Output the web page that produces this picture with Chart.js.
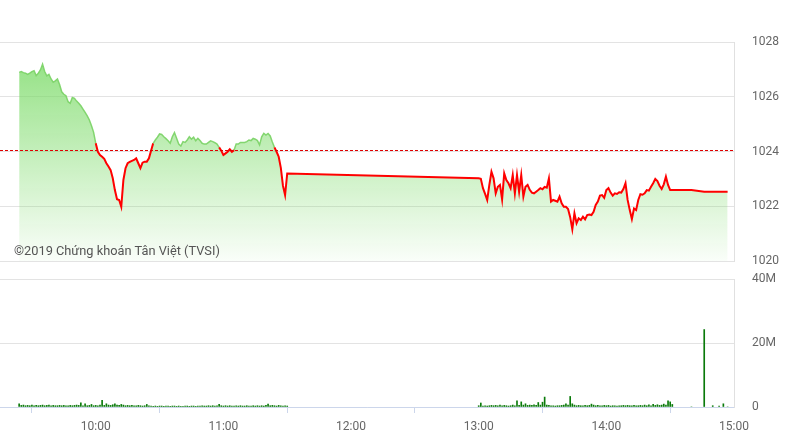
<!DOCTYPE html>
<html lang="vi">
<head>
<meta charset="UTF-8">
<title>VN-Index trong phiên</title>
<script src="https://cdn.jsdelivr.net/npm/chart.js"></script>
<style>
    body { margin: 0; background: #fff; font-family: Roboto, Arial, sans-serif; }
    #wrap { position: relative; width: 796px; height: 447px; }
    #priceBox { position: absolute; left: 0; top: 0; width: 796px; height: 270px; }
    #volBox { position: absolute; left: 0; top: 270px; width: 796px; height: 177px; }
    .copy { position: absolute; left: 14px; top: 243px; font-size: 12.8px; color: #555; }
</style>
</head>
<body>
<div id="wrap">
    <div id="priceBox"><canvas id="priceChart"></canvas></div>
    <div id="volBox"><canvas id="volChart"></canvas></div>
    <div class="copy">©2019 Chứng khoán Tân Việt (TVSI)</div>
</div>
<script>
// session times, index value and matched volume (millions)
const times = [
    '9:24','9:25','9:26','9:27','9:28','9:29','9:30','9:31','9:32','9:33',
    '9:34','9:35','9:36','9:37','9:38','9:39','9:40','9:41','9:42','9:43',
    '9:44','9:45','9:46','9:47','9:48','9:49','9:50','9:51','9:52','9:53',
    '9:54','9:55','9:56','9:57','9:58','9:59','10:00','10:01','10:02','10:03',
    '10:04','10:05','10:06','10:07','10:08','10:09','10:10','10:11','10:12','10:13',
    '10:14','10:15','10:16','10:17','10:18','10:19','10:20','10:21','10:22','10:23',
    '10:24','10:25','10:26','10:27','10:28','10:29','10:30','10:31','10:32','10:33',
    '10:34','10:35','10:36','10:37','10:38','10:39','10:40','10:41','10:42','10:43',
    '10:44','10:45','10:46','10:47','10:48','10:49','10:50','10:51','10:52','10:53',
    '10:54','10:55','10:56','10:57','10:58','10:59','11:00','11:01','11:02','11:03',
    '11:04','11:05','11:06','11:07','11:08','11:09','11:10','11:11','11:12','11:13',
    '11:14','11:15','11:16','11:17','11:18','11:19','11:20','11:21','11:22','11:23',
    '11:24','11:25','11:26','11:27','11:28','11:29','11:30',
    '13:00','13:01','13:02','13:03','13:04','13:05','13:06','13:07','13:08','13:09',
    '13:10','13:11','13:12','13:13','13:14','13:15','13:16','13:17','13:18','13:19',
    '13:20','13:21','13:22','13:23','13:24','13:25','13:26','13:27','13:28','13:29',
    '13:30','13:31','13:32','13:33','13:34','13:35','13:36','13:37','13:38','13:39',
    '13:40','13:41','13:42','13:43','13:44','13:45','13:46','13:47','13:48','13:49',
    '13:50','13:51','13:52','13:53','13:54','13:55','13:56','13:57','13:58','13:59',
    '14:00','14:01','14:02','14:03','14:04','14:05','14:06','14:07','14:08','14:09',
    '14:10','14:11','14:12','14:13','14:14','14:15','14:16','14:17','14:18','14:19',
    '14:20','14:21','14:22','14:23','14:24','14:25','14:26','14:27','14:28','14:29',
    '14:30','14:31','14:40','14:46','14:50','14:53','14:55','14:57'
];
const prices = [
    1026.89,1026.92,1026.88,1026.86,1026.82,1026.86,1026.92,1026.95,1026.77,1026.86,
    1026.98,1027.19,1026.92,1026.76,1026.82,1026.65,1026.53,1026.58,1026.65,1026.45,
    1026.18,1026.09,1026.04,1025.82,1025.76,1025.97,1025.94,1025.84,1025.76,1025.67,
    1025.55,1025.43,1025.30,1025.15,1024.94,1024.70,1024.30,1023.99,1023.87,1023.81,
    1023.73,1023.57,1023.45,1023.32,1023.02,1022.59,1022.26,1022.23,1021.98,1022.96,
    1023.39,1023.57,1023.62,1023.66,1023.69,1023.75,1023.57,1023.39,1023.59,1023.63,
    1023.63,1023.75,1024.03,1024.30,1024.42,1024.52,1024.64,1024.62,1024.54,1024.47,
    1024.39,1024.30,1024.54,1024.69,1024.48,1024.27,1024.20,1024.36,1024.33,1024.42,
    1024.54,1024.45,1024.52,1024.39,1024.48,1024.40,1024.30,1024.27,1024.27,1024.33,
    1024.39,1024.36,1024.32,1024.27,1024.15,1024.03,1023.87,1023.93,1023.99,1024.08,
    1023.99,1024.05,1024.27,1024.27,1024.33,1024.33,1024.33,1024.36,1024.42,1024.40,
    1024.48,1024.45,1024.40,1024.24,1024.54,1024.66,1024.60,1024.66,1024.57,1024.35,
    1024.15,1023.99,1023.81,1023.40,1022.75,1022.41,1023.20,
    1023.02,1023.00,1022.66,1022.45,1022.23,1022.78,1023.26,1023.02,1022.47,1022.71,
    1022.78,1022.25,1023.20,1022.96,1022.84,1022.66,1023.14,1022.47,1023.14,1022.53,
    1023.14,1022.35,1022.71,1022.78,1022.60,1022.50,1022.47,1022.53,1022.59,1022.66,
    1022.62,1022.71,1022.68,1023.02,1022.17,1022.23,1022.20,1022.17,1022.35,1022.11,
    1021.98,1021.98,1021.90,1021.60,1021.16,1021.74,1021.38,1021.56,1021.50,1021.62,
    1021.52,1021.68,1021.70,1021.68,1021.80,1022.05,1022.17,1022.39,1022.41,1022.31,
    1022.59,1022.66,1022.50,1022.39,1022.47,1022.45,1022.51,1022.50,1022.63,1022.84,
    1022.23,1021.86,1021.53,1021.92,1021.86,1022.23,1022.44,1022.42,1022.47,1022.59,
    1022.57,1022.71,1022.84,1023.00,1022.92,1022.75,1022.63,1022.80,1023.08,1022.78,
    1022.59,1022.59,1022.59,1022.53,1022.53,1022.53,1022.53,1022.53
];
const volumes = [
    1.0,0.5,0.6,0.4,0.5,0.4,0.6,0.4,0.5,0.4,
    0.5,0.6,0.4,0.5,0.6,0.4,0.5,0.4,0.4,0.5,
    0.4,0.5,0.4,0.4,0.5,0.4,0.5,0.6,0.5,1.3,
    0.4,1.0,0.4,0.5,0.8,0.4,0.5,0.4,0.6,2.1,
    0.5,1.0,0.6,0.5,0.7,1.0,0.6,0.5,0.8,0.6,
    0.4,0.5,0.4,0.5,0.4,0.4,0.5,0.4,0.3,0.4,
    0.8,0.4,0.3,0.2,0.3,0.2,0.3,0.3,0.2,0.3,
    0.3,0.2,0.3,0.3,0.2,0.3,0.2,0.1,0.3,0.3,
    0.2,0.3,0.3,0.2,0.3,0.3,0.4,0.3,0.3,0.4,
    0.3,0.4,0.3,0.4,0.8,0.4,0.3,0.4,0.3,0.4,
    0.3,0.3,0.4,0.3,0.4,0.3,0.3,0.4,0.3,0.3,
    0.4,0.3,0.4,0.3,0.4,0.3,0.5,0.9,0.4,0.5,
    0.4,0.3,0.5,0.4,0.3,0.4,0.3,
    0.4,1.25,0.3,0.4,0.3,0.4,0.5,0.4,0.5,0.4,
    0.6,0.4,0.5,0.4,0.3,0.4,0.6,0.4,1.9,0.5,
    1.6,0.6,1.0,0.5,0.6,0.5,0.7,0.5,1.4,0.6,
    1.5,3.1,0.6,0.5,0.4,0.4,0.3,0.4,0.4,0.5,
    0.6,1.0,0.6,3.3,1.0,0.6,0.4,0.5,0.4,0.4,
    0.5,0.4,0.5,0.9,0.6,0.4,0.5,0.4,0.4,0.5,
    0.4,0.5,0.3,0.4,0.4,0.3,0.4,0.4,0.5,0.4,
    0.5,0.4,0.4,0.5,0.4,0.4,0.5,0.4,0.6,0.4,
    0.7,0.4,0.8,0.5,0.7,0.5,0.6,0.9,0.6,1.9,
    1.6,0.8,0,24.2,0.4,0.3,1.0,0
];
const refPrice = 1024.05;          // tham chiếu
const priceTicks = [1020, 1022, 1024, 1026, 1028];
const volTicks = [0, 20, 40];
const hourTicks = ['10:00', '11:00', '12:00', '13:00', '14:00', '15:00'];
const dayStart = '9:15';
const dayEnd = '15:00';

function toMin(t) {
    const [h, m] = t.split(':').map(Number);
    return h * 60 + m;
}

// nudge layout padding until the plot area sits where the reference has it
function placeArea(chart, top, bottom) {
    const p = chart.options.layout.padding;
    for (let k = 0; k < 2; k++) {
        const a = chart.chartArea;
        p.top += top - a.top;
        p.bottom += a.bottom - bottom;
        p.left -= a.left;
        chart.update();
    }
}

Chart.defaults.font.family = 'Roboto, Arial, sans-serif';
Chart.defaults.font.size = 12;
Chart.defaults.color = '#666';

const upColor = 'rgba(125,212,105,0.95)';
const downColor = '#ff0000';
const isUp = s => s.p0.parsed.y >= refPrice && s.p1.parsed.y >= refPrice;

// right-hand axis: labels pushed out with an invisible tick instead of ticks.padding
// (ticks.padding also pads the plot top/bottom on a vertical scale)
const rightGrid = { color: '#e3e3e3', drawTicks: true, tickLength: 18, tickColor: 'rgba(0,0,0,0)' };

const refLine = {
    id: 'refLine',
    afterDatasetsDraw(chart) {
        const { ctx, chartArea, scales } = chart;
        const y = Math.round(scales.y.getPixelForValue(refPrice)) + 0.5;
        ctx.save();
        ctx.strokeStyle = '#e00000';
        ctx.lineWidth = 1;
        ctx.setLineDash([3, 2]);
        ctx.beginPath();
        ctx.moveTo(chartArea.left, y);
        ctx.lineTo(chartArea.right, y);
        ctx.stroke();
        ctx.restore();
    }
};

const pricePoints = times.map((t, i) => ({ x: toMin(t), y: prices[i] }));

const priceChart = new Chart(document.getElementById('priceChart'), {
    type: 'line',
    data: {
        datasets: [{
            // the line itself, red below the reference level
            data: pricePoints,
            borderWidth: 2,
            pointRadius: 0,
            tension: 0,
            fill: false,
            segment: {
                borderColor: s => isUp(s) ? upColor : downColor,
                borderWidth: s => isUp(s) ? 1.5 : 2
            }
        }, {
            // area under it, drawn as one piece so it has no seams
            data: pricePoints,
            borderWidth: 0,
            pointRadius: 0,
            tension: 0,
            fill: 'start',
            backgroundColor: (c) => {
                const area = c.chart.chartArea;
                if (!area) return 'rgba(125,218,100,0.4)';
                const g = c.chart.ctx.createLinearGradient(0, area.top, 0, area.bottom);
                g.addColorStop(0, 'rgba(120,218,100,0.85)');
                g.addColorStop(1, 'rgba(120,218,100,0.04)');
                return g;
            }
        }]
    },
    options: {
        animation: false,
        responsive: true,
        maintainAspectRatio: false,
        layout: { autoPadding: false, padding: { top: 42, bottom: 9, left: 0, right: 0 } },
        plugins: { legend: { display: false }, tooltip: { enabled: false } },
        scales: {
            x: { type: 'linear', min: toMin(dayStart), max: toMin(dayEnd), display: false },
            y: {
                position: 'right',
                min: priceTicks[0],
                max: priceTicks[priceTicks.length - 1],
                afterBuildTicks: s => { s.ticks = priceTicks.map(v => ({ value: v })); },
                afterFit: s => { s.width = 62; },
                grid: rightGrid,
                border: { display: true, color: '#e0e0e0' },
                ticks: { padding: 0, color: '#666', callback: v => String(v) }
            }
        }
    },
    plugins: [refLine]
});
placeArea(priceChart, 42, 261);

const volChart = new Chart(document.getElementById('volChart'), {
    type: 'bar',
    data: {
        datasets: [{
            data: times.map((t, i) => ({ x: toMin(t), y: volumes[i] })),
            backgroundColor: '#0a7a0a',
            barThickness: 1,
            borderWidth: 0
        }]
    },
    options: {
        animation: false,
        responsive: true,
        maintainAspectRatio: false,
        layout: { autoPadding: false, padding: { top: 9, bottom: 10, left: 0, right: 0 } },
        plugins: { legend: { display: false }, tooltip: { enabled: false } },
        scales: {
            x: {
                type: 'linear',
                offset: false,
                min: toMin(dayStart),
                max: toMin(dayEnd),
                afterBuildTicks: s => { s.ticks = hourTicks.map(t => ({ value: toMin(t) })); },
                afterFit: s => { s.height = 30; },
                ticks: { callback: (v, i) => hourTicks[i], padding: 7, maxRotation: 0, autoSkip: false, color: '#666' },
                grid: { drawOnChartArea: false, tickLength: 6, color: '#ccd6eb' },
                border: { color: '#ccd6eb' }
            },
            y: {
                position: 'right',
                min: volTicks[0],
                max: volTicks[volTicks.length - 1],
                afterBuildTicks: s => { s.ticks = volTicks.map(v => ({ value: v })); },
                afterFit: s => { s.width = 62; },
                grid: rightGrid,
                border: { display: true, color: '#e0e0e0' },
                ticks: { padding: 0, color: '#666', callback: v => v === 0 ? '0' : v + 'M' }
            }
        }
    }
});
placeArea(volChart, 9, 137);
</script>
</body>
</html>
